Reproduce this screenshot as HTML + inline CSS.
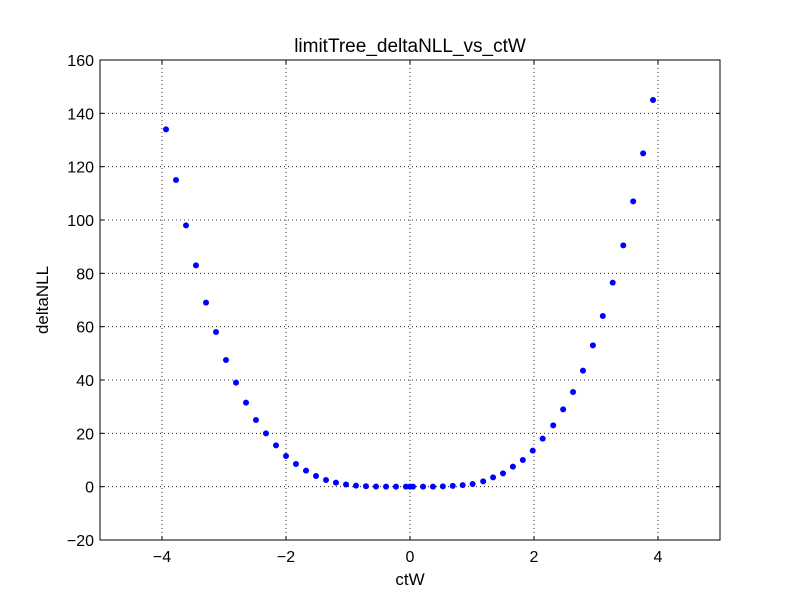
<!DOCTYPE html>
<html><head><meta charset="utf-8"><style>
body{margin:0;background:#fff;}
svg text{font-family:"Liberation Sans",sans-serif;}
</style></head><body>
<svg width="800" height="600" xmlns="http://www.w3.org/2000/svg">
<rect width="800" height="600" fill="#fff"/>
<g id="grid"></g>
<g id="points"></g>
<rect x="100" y="60" width="620" height="480" fill="none" stroke="#000" stroke-width="1"/>
<g id="ticks"></g>
<text x="410" y="52" text-anchor="middle" font-size="19">limitTree_deltaNLL_vs_ctW</text>
<text x="410" y="585" text-anchor="middle" font-size="17">ctW</text>
<text x="0" y="0" transform="translate(48,300) rotate(-90)" text-anchor="middle" font-size="17">deltaNLL</text>
</svg>
<script>
const xVals=[-3.935,-3.774,-3.613,-3.452,-3.290,-3.129,-2.968,-2.806,-2.645,-2.484,-2.323,-2.161,-2.0,-1.839,-1.677,-1.516,-1.355,-1.194,-1.032,-0.871,-0.710,-0.548,-0.387,-0.226,-0.065,0,
0.048,0.21,0.37,0.53,0.69,0.85,1.01,1.18,1.34,1.5,1.66,1.82,1.98,2.14,2.31,2.47,2.63,2.79,2.95,3.11,3.27,3.44,3.6,3.76,3.92];
const yVals=[134,115,98,83,69,58,47.5,39,31.5,25,20,15.5,11.5,8.5,6,4,2.5,1.5,0.8,0.4,0.15,0.05,0,0,0,0,
0,0,0,0.1,0.3,0.6,1,2,3.5,5,7.5,10,13.5,18,23,29,35.5,43.5,53,64,76.5,90.5,107,125,145];
const xTicks=[-4,-2,0,2,4];
const yTicks=[-20,0,20,40,60,80,100,120,140,160];
const xTickLabels=["\u22124","\u22122","0","2","4"];
const yTickLabels=["\u221220","0","20","40","60","80","100","120","140","160"];
const X0=100,X1=720,Y0=540,Y1=60,xmin=-5,xmax=5,ymin=-20,ymax=160;
function sx(v){return X0+(v-xmin)/(xmax-xmin)*(X1-X0);}
function sy(v){return Y0-(v-ymin)/(ymax-ymin)*(Y0-Y1);}
const NS="http://www.w3.org/2000/svg";
function mk(t,a,p){const e=document.createElementNS(NS,t);for(const k in a)e.setAttribute(k,a[k]);p.appendChild(e);return e;}
const g=document.getElementById('grid'),tk=document.getElementById('ticks'),pts=document.getElementById('points');
xTicks.forEach((v,i)=>{const x=sx(v);
 const l=mk('line',{x1:x,x2:x,y1:Y1,y2:Y0,stroke:'#000','stroke-dasharray':'1,3','stroke-width':0.8},g);
 
 
 mk('line',{x1:x,x2:x,y1:Y0,y2:Y0-4,stroke:'#000'},tk);
 mk('line',{x1:x,x2:x,y1:Y1,y2:Y1+4,stroke:'#000'},tk);
 const t=mk('text',{x:x,y:Y0+22,'text-anchor':'middle','font-size':16},tk);t.textContent=xTickLabels[i];
 
 
});
yTicks.forEach((v,i)=>{const y=sy(v);
 const l=mk('line',{x1:X0,x2:X1,y1:y,y2:y,stroke:'#000','stroke-dasharray':'1,3','stroke-width':0.8},g);
 
 
 mk('line',{x1:X0,x2:X0+4,y1:y,y2:y,stroke:'#000'},tk);
 mk('line',{x1:X1,x2:X1-4,y1:y,y2:y,stroke:'#000'},tk);
 const t=mk('text',{x:X0-6,y:y+6,'text-anchor':'end','font-size':16},tk);t.textContent=yTickLabels[i];
 
 
});
xVals.forEach((v,i)=>{
 const c=mk('circle',{cx:sx(v),cy:sy(yVals[i]),r:3,fill:'#0000ff'},pts);
 
 
});
</script>
</body></html>
